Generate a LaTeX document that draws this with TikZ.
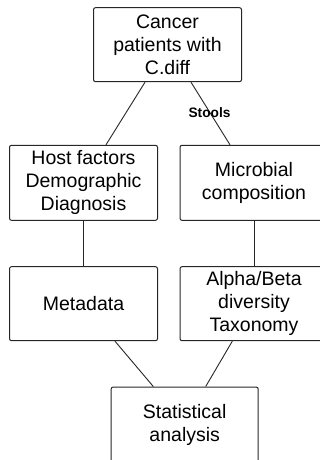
\documentclass[tikz,border=0pt]{standalone}
\usepackage{fontspec}
\setmainfont{Liberation Sans}
\usetikzlibrary{calc}
\tikzset{
  box/.style={draw=black!85, line width=1pt, rounded corners=2pt, minimum width=148pt, minimum height=74pt, align=center, inner sep=0pt, font=\fontsize{19.5}{23}\selectfont},
  link/.style={draw=black!85, line width=0.9pt},
  lbl/.style={font=\bfseries\fontsize{13.7}{15}\selectfont, inner sep=0pt}
}
\begin{document}
\begin{tikzpicture}[x=1pt,y=-1pt]
\clip (0,0) rectangle (320,460);
\node[box] (top) at (167.5,44.7) {Cancer\\patients with\\C.diff};
\node[box, minimum height=75pt] (host) at (83.5,182.8) {Host factors\\Demographic\\Diagnosis};
\node[box, minimum height=75pt] (micro) at (254,182.8) {Microbial\\composition};
\node[box] (meta) at (83.5,303.7) {Metadata};
\node[box] (alpha) at (254,303.7) {Alpha/Beta\\diversity\\Taxonomy};
\node[box, minimum width=147pt, minimum height=75pt] (stat) at (184.7,424.5) {};
\node[font=\fontsize{19.5}{23}\selectfont, align=center, inner sep=0pt] (stattext) at (184.7,425) {Statistical\\analysis};
\draw[link] ($(top.south)+(-22.5,0)$) -- ($(host.north)+(22.5,0)$);
\draw[link] ($(top.south)+(23.5,0)$) -- ($(micro.north)+(-24,0)$);
\draw[link] (host.south) -- (meta.north);
\draw[link] (micro.south) -- (alpha.north);
\draw[link] ($(meta.south)+(31.5,0)$) -- ($(stat.north)+(-31.4,0)$);
\draw[link] ($(alpha.south)+(-21.7,0)$) -- ($(stat.north)+(21,0)$);
\node[lbl] (stools) at (209.5,113) {Stools};
\end{tikzpicture}
\end{document}
